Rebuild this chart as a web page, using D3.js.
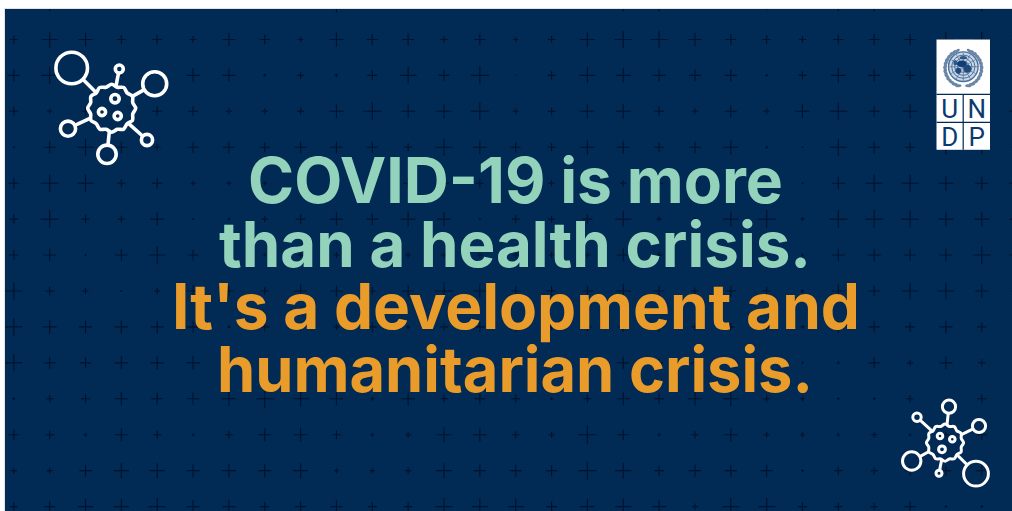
<!DOCTYPE html>
<html><head><meta charset="utf-8">
<style>html,body{margin:0;padding:0;background:#fff;overflow:hidden}svg{display:block}</style>
<script src="https://cdn.jsdelivr.net/npm/d3@7/dist/d3.min.js"></script>
</head><body><svg id="c" width="1012" height="511"></svg>
<script>
// Half-length of each "+" in the background, row by row, column by column
const row003=[0,8,0,0,0,0,1,0,1,9,0,0,0,0,0,0,0,8,8,0,0,6.5,0,8,8,0,0,8,0];
const row039=[4,8,7,4.5,5,3.5,6.5,5,2.5,7,5.5,6,3.5,5.5,2.5,3.5,7.5,8.5,8.5,6.5,5.5,4.5,3.5,5,5.5,5.5,8,8,6];
const row075=[6,8.5,0,1,0,7,6.5,1.5,3,2,5,8.5,5.5,9,0.5,4,8,7.5,6.5,6,6,1.5,4,7.5,6,5,6,6,5];
const row111=[4.5,2.5,4,0,5,5,3,3,3.5,7,9,7,7.5,9,3,4,7,7.5,5,3,6,3,7,9,5.5,7.5,6,6,8];
const row147=[1,6,8.5,6,3.5,5.5,6,5,6,6,5.5,4,8.5,7,5,4,7.5,6.5,5,6,7.5,1.5,0.7,8.5,6,5,8,7,6];
const row183=[5.5,9,8.5,4,5.5,2.5,2.5,2,4,4,4,5,5,4,3,3,6,3,4,3,4,3,1,6.5,8.5,8.5,7.5,6.5,8];
const row219=[4.5,9,4,3.5,7,1,1.5,3,5,6.5,6,7.5,7,1,4,3.5,5,8,2.5,1.5,7.5,9,2,9,9,8.5,7.5,7.5,8];
const row255=[5,6.5,1,6,8.5,5.5,1.5,1.5,3,3,3,3,3,3,3,3,3,6.5,3,3,3,3,1.5,6.5,6.5,6,6.5,9,8];
const row291=[8.5,4.5,3,1,3,6,5,4,6.5,6,4,6,9,6.5,5,5,5.5,7.5,5.5,3.5,5.5,4,2,6.5,5.5,8.5,8.5,6.5,6];
const row327=[8.5,7,6.5,6.5,6.5,6,1.5,5,4,3,5,2,4,5,5,4,4,5,5,3.5,4,3,2,6,5.5,5,6.5,4.5,1];
const row363=[8.5,6,5.5,6.5,6.5,7,4,4,4,4,4,4,4,4,4,4,4,6,4,4,3,3,1,1.5,5.5,3,6.5,3.5,1];
const row399=[1.5,3.5,4.5,6.5,6,6,7.5,9,8,6.5,2,7,4,5.5,4.5,1.5,4,6.5,5,7,8,4,2.5,1.5,1.5,3.5,1,4.5,1];
const row435=[5.5,4.5,2,6.5,4,1.5,4,6.5,7,4.5,2,3,7.5,7,3.5,3,9,5.5,2,3.5,7,3,2.5,2,3,1.5,3,5.5,2];
const row471=[3,3,6,7.5,7.5,6.5,7,6.5,7.5,2.5,2.5,3,7.5,6,6,5.5,9,8,5,6,6,6,1.5,4,3.5,5,5,5.5,4];
const row507=[4,5.5,7.5,7.5,8.5,6.5,6.5,4.5,5.5,6,4.5,4,8.5,8,8,5.5,7.5,8,7,3,8.5,8.5,4.5,4,3.5,5.5,1.5,1.5,3];
const plusRows=[row003,row039,row075,row111,row147,row183,row219,row255,row291,row327,row363,row399,row435,row471,row507];

// Headline
const headlineLines=["COVID-19 is more","than a health crisis.","It's a development and","humanitarian crisis."];
const headlineStarts=[248,219,172,217];
const headlineEnds=[783,811,860,813];
const headlineBaselines=[203.3,266.7,329.2,391.8];
const headlineColors=["#93d3bc","#93d3bc","#e99c2a","#e99c2a"];

// Virus icons: satellites [x,y,r], inner dots [x,y,r], outline radii
const virusA={cx:111.7,cy:108.3,sw:3.6,
 sats:[[71.7,68,15.8],[119.3,69,4],[154.7,83.7,12],[68,128.7,7.6],[107,154.3,9.2],[147,140,5.6]],
 dots:[[115,98.7,4.2],[102,112,3.6],[117.7,116,3.6]]};
const virusB={cx:945,cy:442.7,sw:3,
 sats:[[949,406.7,6.6],[917,417.3,4.2],[979,426,6.6],[911.7,461,9.2],[976,473.7,12.4],[939,473.3,3]],
 dots:[[940,436,2.8],[952.3,439.3,2.8],[942,449.3,3.4]]};
const outlineRadiiA=[24,21.8,24,21.8,24,21.8,24,21.8,24,21.8,24,21.8,24,21.8,24,21.8,24,21.8,24,21.8,24,21.8,24,21.8];
const outlineRadiiB=[18.6,16.8,18.6,16.8,18.6,16.8,18.6,16.8,18.6,16.8,18.6,16.8,18.6,16.8,18.6,16.8,18.6,16.8,18.6,16.8,18.6,16.8,18.6,16.8];

// Logo letters
const logoLetters=["U","N","D","P"];

const svg=d3.select("#c");
const defs=svg.append("defs");
defs.append("clipPath").attr("id","panel").append("rect").attr("x",5).attr("y",9).attr("width",1007).attr("height",502);

const NAVY="#012a55";
svg.append("rect").attr("x",4.5).attr("y",8.5).attr("width",1008).attr("height",503).attr("fill",NAVY).attr("stroke","#dfe2e6").attr("stroke-width",1);

const xS=d3.scaleLinear().domain([0,28]).range([13.8,1017.6]);
const yS=d3.scaleLinear().domain([0,14]).range([3.5,506.6]);

const plusG=svg.append("g").attr("clip-path","url(#panel)").attr("stroke","#00132c").attr("stroke-width",1.1).attr("fill","none");
plusRows.forEach((row,j)=>{
  const g=plusG.append("g").attr("transform",`translate(0,${yS(j)})`);
  g.selectAll("path").data(row.map((s,i)=>({s,i})).filter(d=>d.s>0)).join("path")
   .attr("d",d=>{const x=xS(d.i);return `M${x-d.s},0H${x+d.s}M${x},${-d.s}V${d.s}`;});
});

// Headline
const tg=svg.append("g").attr("font-family","Inter, Lato, 'Noto Sans', sans-serif").attr("font-weight",700).attr("font-size",63);
headlineLines.forEach((t,i)=>{
  tg.append("text").attr("x",headlineStarts[i]).attr("y",headlineBaselines[i])
    .attr("textLength",headlineEnds[i]-headlineStarts[i]).attr("lengthAdjust","spacingAndGlyphs")
    .attr("fill",headlineColors[i]).text(t);
});

// Virus icons
function drawVirus(v,radii){
  const g=svg.append("g").attr("fill","none").attr("stroke","#fff").attr("stroke-width",v.sw);
  const ang=d3.scaleLinear().domain([0,radii.length]).range([0,2*Math.PI]);
  const r0=d3.mean(radii);
  v.sats.forEach(s=>{
    const a=Math.atan2(s[1]-v.cy,s[0]-v.cx);
    g.append("line")
     .attr("x1",v.cx+Math.cos(a)*r0).attr("y1",v.cy+Math.sin(a)*r0)
     .attr("x2",s[0]-Math.cos(a)*s[2]).attr("y2",s[1]-Math.sin(a)*s[2]);
    g.append("circle").attr("cx",s[0]).attr("cy",s[1]).attr("r",s[2]);
  });
  g.append("path").attr("transform",`translate(${v.cx},${v.cy})`)
   .attr("stroke-linejoin","round")
   .attr("d",d3.lineRadial().angle((d,i)=>ang(i)).radius(d=>d).curve(d3.curveCardinalClosed)(radii));
  v.dots.forEach(s=>g.append("circle").attr("cx",s[0]).attr("cy",s[1]).attr("r",s[2]));
}
drawVirus(virusA,outlineRadiiA);
drawVirus(virusB,outlineRadiiB);

// UNDP logo
const logo=svg.append("g");
const LB="#0b3a70";
logo.append("rect").attr("x",936.5).attr("y",39.5).attr("width",53.5).attr("height",110.3).attr("fill","#fff");
logo.append("path").attr("stroke",NAVY).attr("stroke-width",1.2).attr("fill","none")
  .attr("d","M936.5,94.4H990M936.5,122.3H990M963.2,94.4V149.8");
const lx=[949.8,976.8,949.8,976.8], ly=[118,118,146,146];
logo.selectAll("text").data(logoLetters).join("text").attr("x",(d,i)=>lx[i]).attr("y",(d,i)=>ly[i])
  .attr("text-anchor","middle").attr("font-family","Roboto, 'Open Sans', sans-serif").attr("font-weight",400)
  .attr("font-size",26).attr("fill",LB).text(d=>d);
const em=logo.append("g").attr("transform","translate(963.3,66.7)");
const EB="#4a6f9c";
em.append("circle").attr("r",15).attr("fill","#c9d6e4");
[14.8,11.6,8.6,5.6].forEach(r=>em.append("circle").attr("r",r).attr("fill","none").attr("stroke",EB).attr("stroke-width",r>14?1.4:1));
d3.range(0,180,30).forEach(a=>em.append("line").attr("x1",-14*Math.cos(a*Math.PI/180)).attr("y1",-14*Math.sin(a*Math.PI/180)).attr("x2",14*Math.cos(a*Math.PI/180)).attr("y2",14*Math.sin(a*Math.PI/180)).attr("stroke",EB).attr("stroke-width",0.7));
[[-1.5,-3,5,3.2,"#123f72"],[4,2,3.8,4,"#1d4a7c"],[-5,4,2.8,3,"#1d4a7c"],[0,-9,3.6,1.6,"#2a5688"],[-8,-4,2,2.6,"#2a5688"]]
  .forEach(e=>em.append("ellipse").attr("cx",e[0]).attr("cy",e[1]).attr("rx",e[2]).attr("ry",e[3]).attr("fill",e[4]));
d3.range(-70,75,12).forEach(a=>{
  [-1,1].forEach(side=>{
    const t=a*Math.PI/180, R=18.2;
    const x=side*R*Math.cos(t), y=R*Math.sin(t)+1.5;
    em.append("ellipse").attr("rx",1.5).attr("ry",3.2).attr("fill","#6a87a8")
      .attr("transform",`translate(${x},${y}) rotate(${side*(a+20)})`);
  });
});
</script></body></html>
